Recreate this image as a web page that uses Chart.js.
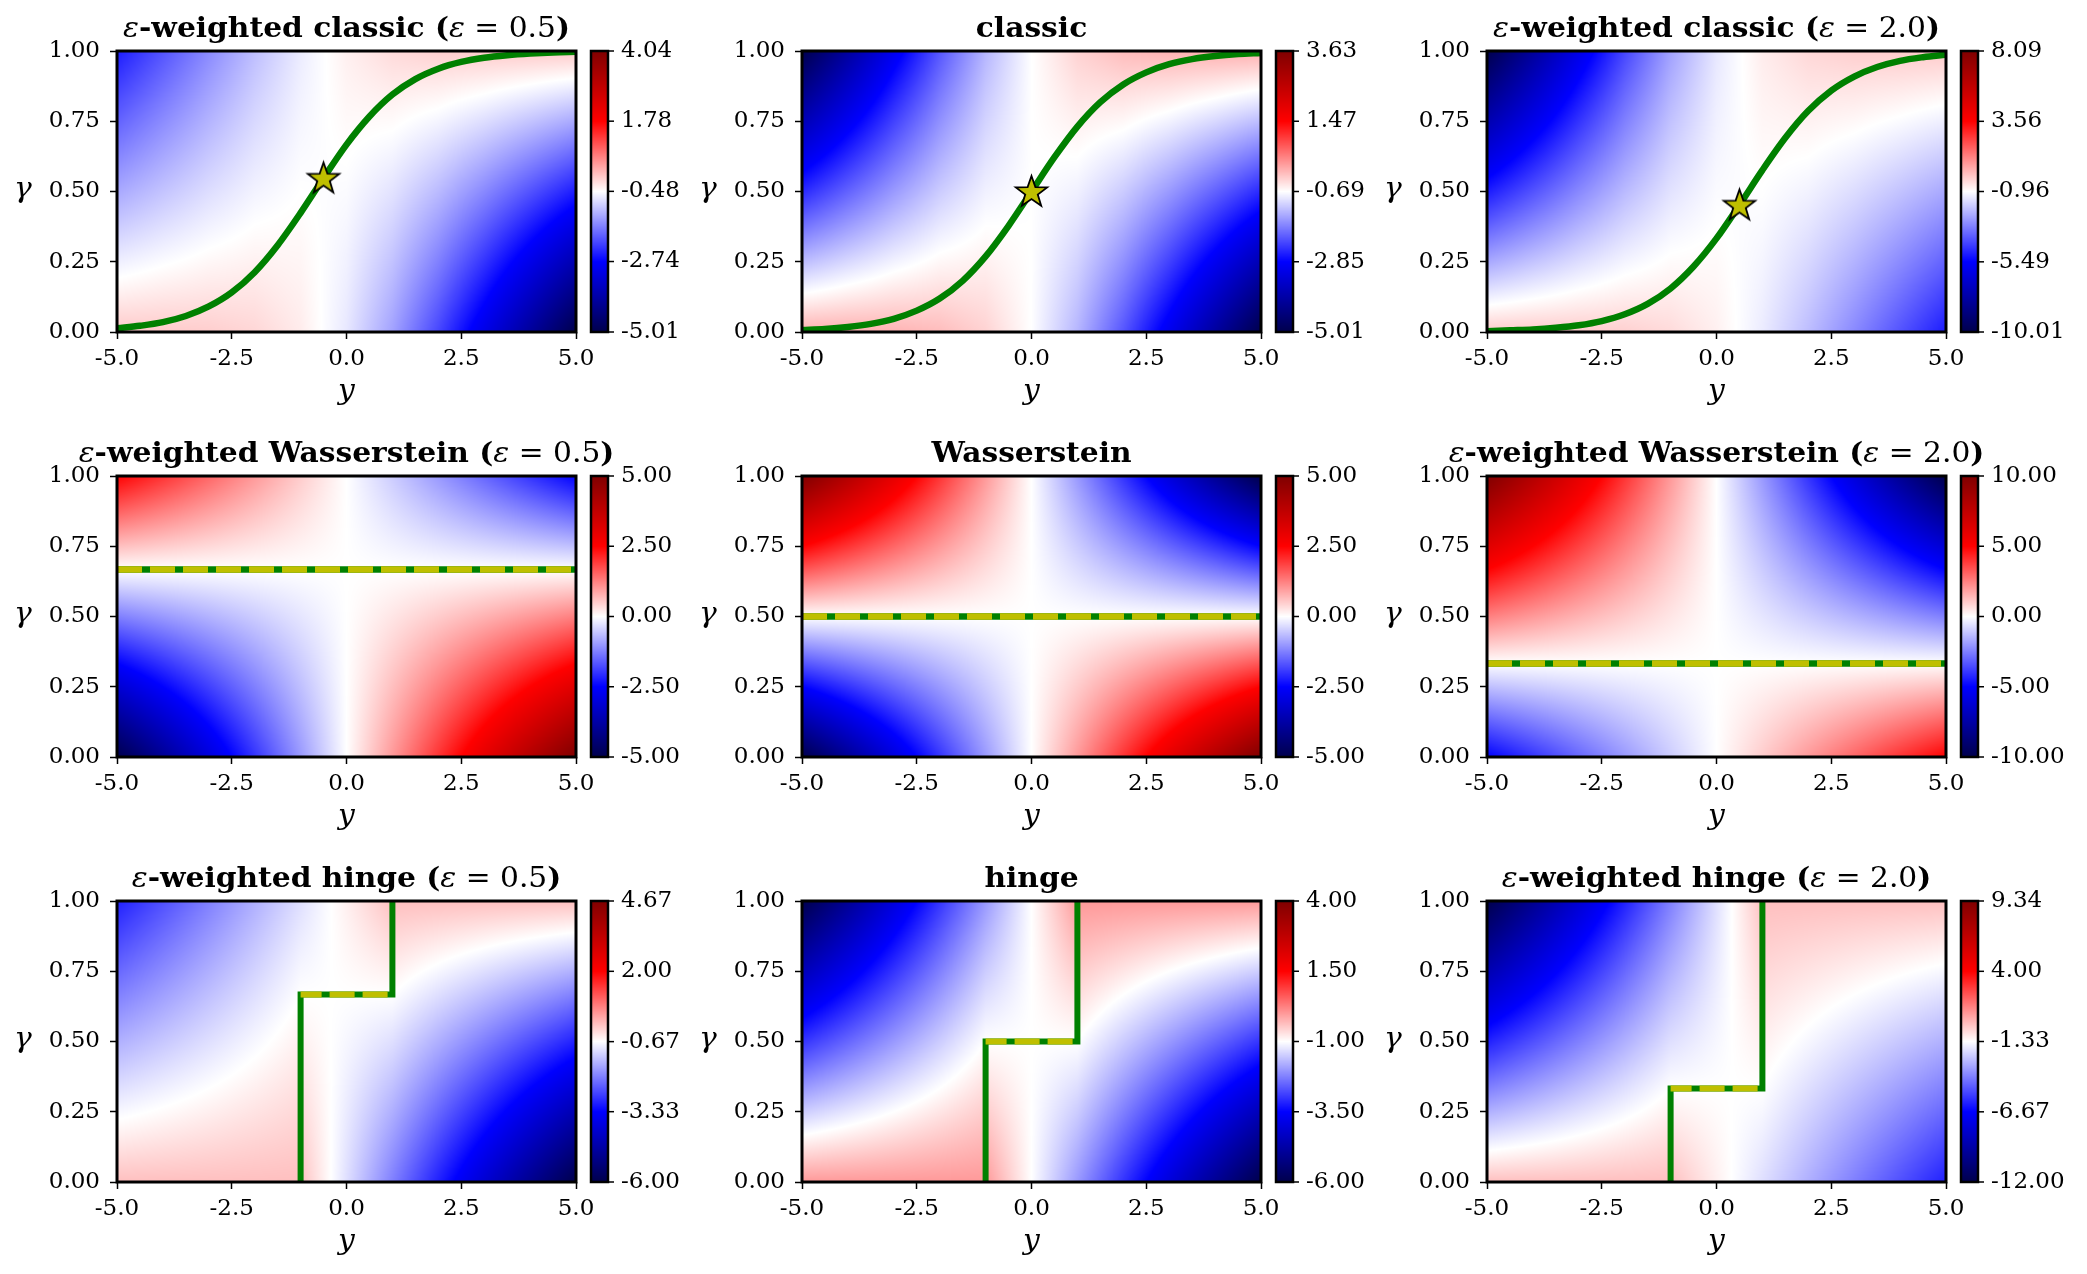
<!DOCTYPE html>
<html>
<head>
<meta charset="utf-8">
<script src="https://cdn.jsdelivr.net/npm/chart.js@4.4.1/dist/chart.umd.min.js"></script>
<style>
  html, body { margin: 0; padding: 0; background: #fff; }
  #page { position: relative; width: 2087px; height: 1274px; overflow: hidden; background: #fff; }
  #page canvas { position: absolute; }
</style>
</head>
<body>
<div id="page"></div>
<script>
// sample grid of the heat maps (columns = y, rows = gamma)
const xGrid = [-5, -4, -3, -2, -1, 0, 1, 2, 3, 4, 5];
const gammaGrid = [0, 0.5, 1];

// heat map values, one row per gamma in gammaGrid
const fieldClassicHalf = [
  [-0.007, -0.018, -0.049, -0.127, -0.313, -0.693, -1.313, -2.127, -3.049, -4.018, -5.007],
  [-1.255, -1.014, -0.786, -0.595, -0.485, -0.520, -0.735, -1.095, -1.536, -2.014, -2.505],
  [-2.503, -2.009, -1.524, -1.063, -0.657, -0.347, -0.157, -0.063, -0.024, -0.009, -0.003]
];
const fieldClassic = [
  [-0.007, -0.018, -0.049, -0.127, -0.313, -0.693, -1.313, -2.127, -3.049, -4.018, -5.007],
  [-2.507, -2.018, -1.549, -1.127, -0.813, -0.693, -0.813, -1.127, -1.549, -2.018, -2.507],
  [-5.007, -4.018, -3.049, -2.127, -1.313, -0.693, -0.313, -0.127, -0.049, -0.018, -0.007]
];
const fieldClassicTwo = [
  [-0.007, -0.018, -0.049, -0.127, -0.313, -0.693, -1.313, -2.127, -3.049, -4.018, -5.007],
  [-5.010, -4.027, -3.073, -2.190, -1.470, -1.040, -0.970, -1.190, -1.573, -2.027, -2.510],
  [-10.013, -8.036, -6.097, -4.254, -2.627, -1.386, -0.627, -0.254, -0.097, -0.036, -0.013]
];
const fieldWassHalf = [
  [-5, -4, -3, -2, -1, 0, 1, 2, 3, 4, 5],
  [-1.25, -1, -0.75, -0.5, -0.25, 0, 0.25, 0.5, 0.75, 1, 1.25],
  [2.5, 2, 1.5, 1, 0.5, 0, -0.5, -1, -1.5, -2, -2.5]
];
const fieldWass = [
  [-5, -4, -3, -2, -1, 0, 1, 2, 3, 4, 5],
  [0, 0, 0, 0, 0, 0, 0, 0, 0, 0, 0],
  [5, 4, 3, 2, 1, 0, -1, -2, -3, -4, -5]
];
const fieldWassTwo = [
  [-5, -4, -3, -2, -1, 0, 1, 2, 3, 4, 5],
  [2.5, 2, 1.5, 1, 0.5, 0, -0.5, -1, -1.5, -2, -2.5],
  [10, 8, 6, 4, 2, 0, -2, -4, -6, -8, -10]
];
const fieldHingeHalf = [
  [0, 0, 0, 0, 0, -1, -2, -3, -4, -5, -6],
  [-1.5, -1.25, -1, -0.75, -0.5, -0.75, -1, -1.5, -2, -2.5, -3],
  [-3, -2.5, -2, -1.5, -1, -0.5, 0, 0, 0, 0, 0]
];
const fieldHinge = [
  [0, 0, 0, 0, 0, -1, -2, -3, -4, -5, -6],
  [-3, -2.5, -2, -1.5, -1, -1, -1, -1.5, -2, -2.5, -3],
  [-6, -5, -4, -3, -2, -1, 0, 0, 0, 0, 0]
];
const fieldHingeTwo = [
  [0, 0, 0, 0, 0, -1, -2, -3, -4, -5, -6],
  [-6, -5, -4, -3, -2, -1.5, -1, -1.5, -2, -2.5, -3],
  [-12, -10, -8, -6, -4, -2, 0, 0, 0, 0, 0]
];

// colorbar tick labels (first = vmin, last = vmax)
const cbClassicHalf = [-5.01, -2.74, -0.48, 1.78, 4.04];
const cbClassic = [-5.01, -2.85, -0.69, 1.47, 3.63];
const cbClassicTwo = [-10.01, -5.49, -0.96, 3.56, 8.09];
const cbWassHalf = [-5, -2.5, 0, 2.5, 5];
const cbWass = [-5, -2.5, 0, 2.5, 5];
const cbWassTwo = [-10, -5, 0, 5, 10];
const cbHingeHalf = [-6, -3.33, -0.67, 2, 4.67];
const cbHinge = [-6, -3.5, -1, 1.5, 4];
const cbHingeTwo = [-12, -6.67, -1.33, 4, 9.34];

// axis ticks
const xTicks = [-5, -2.5, 0, 2.5, 5];
const yTicks = [0, 0.25, 0.5, 0.75, 1];

// green optimum curves of the classic panels
const curveX = [-5, -4.5, -4, -3.5, -3, -2.5, -2, -1.5, -1, -0.5, 0, 0.5, 1, 1.5, 2, 2.5, 3, 3.5, 4, 4.5, 5];
const curveHalf = [0.013, 0.022, 0.035, 0.057, 0.091, 0.141, 0.213, 0.309, 0.424, 0.548, 0.667, 0.767, 0.845, 0.900, 0.937, 0.961, 0.976, 0.985, 0.991, 0.995, 0.997];
const curveClassic = [0.007, 0.011, 0.018, 0.029, 0.047, 0.076, 0.119, 0.182, 0.269, 0.378, 0.5, 0.622, 0.731, 0.818, 0.881, 0.924, 0.953, 0.971, 0.982, 0.989, 0.993];
const curveTwo = [0.003, 0.006, 0.009, 0.015, 0.024, 0.039, 0.063, 0.100, 0.155, 0.233, 0.333, 0.452, 0.576, 0.691, 0.787, 0.859, 0.909, 0.943, 0.965, 0.978, 0.987];
const starX = [-0.5, 0, 0.5];
const starGamma = [0.548, 0.5, 0.452];

// optimum levels of the Wasserstein and hinge panels
const optLevel = [0.667, 0.5, 0.333];
const stepX = [-1, -1, 1, 1];

const SERIF = '"DejaVu Serif", serif';
const GREEN = '#008000';
const YELLOW = '#bfbf00';
const STRETCH = 1.1; // the reference text is a little wider than tall

function epsTitle(name, eps) {
  return [['ε', 'italic'], ['-weighted ' + name + ' (', 'bold'], ['ε', 'italic'], [' = ' + eps, 'normal'], [')', 'bold']];
}

const panels = [
  { title: epsTitle('classic', '0.5'), field: fieldClassicHalf, cb: cbClassicHalf, kind: 'curve', curve: curveHalf, k: 0 },
  { title: [['classic', 'bold']], field: fieldClassic, cb: cbClassic, kind: 'curve', curve: curveClassic, k: 1 },
  { title: epsTitle('classic', '2.0'), field: fieldClassicTwo, cb: cbClassicTwo, kind: 'curve', curve: curveTwo, k: 2 },
  { title: epsTitle('Wasserstein', '0.5'), field: fieldWassHalf, cb: cbWassHalf, kind: 'level', k: 0 },
  { title: [['Wasserstein', 'bold']], field: fieldWass, cb: cbWass, kind: 'level', k: 1 },
  { title: epsTitle('Wasserstein', '2.0'), field: fieldWassTwo, cb: cbWassTwo, kind: 'level', k: 2 },
  { title: epsTitle('hinge', '0.5'), field: fieldHingeHalf, cb: cbHingeHalf, kind: 'step', k: 0 },
  { title: [['hinge', 'bold']], field: fieldHinge, cb: cbHinge, kind: 'step', k: 1 },
  { title: epsTitle('hinge', '2.0'), field: fieldHingeTwo, cb: cbHingeTwo, kind: 'step', k: 2 }
];

const colLeft = [117, 802, 1487];
const rowTop = [51, 476, 901];
const PLOT_W = 459, PLOT_H = 281;
const PAD_L = 115, PAD_T = 51, PAD_R = 135, PAD_B = 80;

function seismic(t) {
  t = Math.min(1, Math.max(0, t));
  const r = [0, 0, 1, 1, 0.5], g = [0, 0, 1, 0, 0], b = [0.3, 1, 1, 0, 0];
  const i = Math.min(3, Math.floor(t * 4));
  const f = (t - i * 0.25) / 0.25;
  return [r, g, b].map(c => Math.round((c[i] + (c[i + 1] - c[i]) * f) * 255));
}

function sample(field, x, g) {
  let i = 0;
  while (i < xGrid.length - 2 && x > xGrid[i + 1]) i++;
  let j = 0;
  while (j < gammaGrid.length - 2 && g > gammaGrid[j + 1]) j++;
  const fx = (x - xGrid[i]) / (xGrid[i + 1] - xGrid[i]);
  const fg = (g - gammaGrid[j]) / (gammaGrid[j + 1] - gammaGrid[j]);
  const lo = field[j][i] * (1 - fx) + field[j][i + 1] * fx;
  const hi = field[j + 1][i] * (1 - fx) + field[j + 1][i + 1] * fx;
  return lo * (1 - fg) + hi * fg;
}

function makeStar(r) {
  const c = document.createElement('canvas');
  const s = Math.ceil(r * 2 + 6);
  c.width = c.height = s;
  const x = c.getContext('2d');
  x.beginPath();
  for (let k = 0; k < 10; k++) {
    const rad = k % 2 ? r * 0.4 : r;
    const ang = -Math.PI / 2 + k * Math.PI / 5;
    x.lineTo(s / 2 + rad * Math.cos(ang), s / 2 + 1 + rad * Math.sin(ang));
  }
  x.closePath();
  x.fillStyle = YELLOW;
  x.fill();
  x.lineWidth = 1.8;
  x.strokeStyle = '#000';
  x.stroke();
  return c;
}
const starImg = makeStar(16.5);

// draws text horizontally stretched, anchored by its centre x
function stretchedText(ctx, parts, cx, y) {
  const fontFor = s => (s === 'bold' ? 'bold ' : s === 'italic' ? 'italic ' : '') + '27px ' + SERIF;
  let total = 0;
  parts.forEach(([t, s]) => { ctx.font = fontFor(s); total += ctx.measureText(t).width; });
  ctx.save();
  ctx.translate(cx, y);
  ctx.scale(STRETCH, 1);
  let tx = -total / 2;
  ctx.textAlign = 'left';
  parts.forEach(([t, s]) => {
    ctx.font = fontFor(s);
    ctx.fillText(t, tx, 0);
    tx += ctx.measureText(t).width;
  });
  ctx.restore();
}

function panelPlugin(p) {
  return {
    id: 'panel',
    beforeDatasetsDraw(chart) {
      const { ctx, chartArea: a, scales } = chart;
      const w = Math.round(a.right - a.left), h = Math.round(a.bottom - a.top);
      const off = document.createElement('canvas');
      off.width = w; off.height = h;
      const octx = off.getContext('2d');
      const img = octx.createImageData(w, h);
      const xs = [];
      for (let px = 0; px < w; px++) xs.push(scales.x.getValueForPixel(a.left + px + 0.5));
      const cb = scales.cb;
      for (let py = 0; py < h; py++) {
        const g = scales.y.getValueForPixel(a.top + py + 0.5);
        for (let px = 0; px < w; px++) {
          const v = sample(p.field, xs[px], g);
          const t = (cb.getPixelForValue(v) - cb.bottom) / (cb.top - cb.bottom);
          const c = seismic(t);
          const o = (py * w + px) * 4;
          img.data[o] = c[0]; img.data[o + 1] = c[1]; img.data[o + 2] = c[2]; img.data[o + 3] = 255;
        }
      }
      octx.putImageData(img, 0, 0);
      ctx.drawImage(off, a.left, a.top);
    },
    afterDatasetsDraw(chart) {
      const { ctx, chartArea: a, scales } = chart;
      ctx.save();
      // axes frame
      ctx.lineWidth = 3;
      ctx.strokeStyle = '#000';
      ctx.strokeRect(a.left, a.top, a.right - a.left, a.bottom - a.top);

      // colorbar
      const cb = scales.cb;
      const bx = a.right + 15, bw = 17;
      for (let py = Math.floor(cb.top); py < cb.bottom; py++) {
        const t = (py + 0.5 - cb.bottom) / (cb.top - cb.bottom);
        const c = seismic(t);
        ctx.fillStyle = 'rgb(' + c.join(',') + ')';
        ctx.fillRect(bx, py, bw, 1);
      }
      ctx.lineWidth = 2.5;
      ctx.strokeRect(bx, cb.top, bw, cb.bottom - cb.top);
      ctx.lineWidth = 1.5;
      p.cb.forEach(v => {
        const y = cb.getPixelForValue(v);
        ctx.beginPath();
        ctx.moveTo(bx + bw, y);
        ctx.lineTo(bx + bw + 6, y);
        ctx.stroke();
      });

      // title with mixed fonts, then axis labels
      ctx.fillStyle = '#000';
      ctx.textBaseline = 'alphabetic';
      stretchedText(ctx, p.title, (a.left + a.right) / 2, a.top - 14);
      stretchedText(ctx, [['y', 'italic']], (a.left + a.right) / 2, a.bottom + 67);
      stretchedText(ctx, [['γ', 'italic']], a.left - 94, (a.top + a.bottom) / 2 + 5);
      ctx.restore();
    }
  };
}

function buildDatasets(p) {
  const L = optLevel[p.k];
  if (p.kind === 'curve') {
    return [
      { data: [{ x: starX[p.k], y: starGamma[p.k] }], showLine: false, pointStyle: starImg, pointRadius: 16, order: 0, clip: false },
      { data: curveX.map((x, i) => ({ x, y: p.curve[i] })), showLine: true, borderColor: GREEN, borderWidth: 6.5,
        cubicInterpolationMode: 'monotone', pointRadius: 0, order: 1 }
    ];
  }
  if (p.kind === 'level') {
    const pts = [{ x: -5, y: L }, { x: 5, y: L }];
    return [
      { data: pts, showLine: true, borderColor: YELLOW, borderWidth: 6.5, borderDash: [25, 8], borderCapStyle: 'butt', pointRadius: 0, order: 0 },
      { data: pts, showLine: true, borderColor: GREEN, borderWidth: 6.5, pointRadius: 0, order: 1 }
    ];
  }
  const stepGamma = [0, L, L, 1];
  return [
    { data: [{ x: -1, y: L }, { x: 1, y: L }], showLine: true, borderColor: YELLOW, borderWidth: 6, borderDash: [25, 8],
      borderDashOffset: 4, borderCapStyle: 'butt', pointRadius: 0, order: 0 },
    { data: stepX.map((x, i) => ({ x, y: stepGamma[i] })), showLine: true, borderColor: GREEN, borderWidth: 6,
      borderJoinStyle: 'miter', pointRadius: 0, order: 1 }
  ];
}

const tickFont = { family: SERIF, size: 23 };

panels.forEach((p, idx) => {
  const r = Math.floor(idx / 3), c = idx % 3;
  const canvas = document.createElement('canvas');
  const W = PAD_L + PLOT_W + PAD_R, H = PAD_T + PLOT_H + PAD_B;
  canvas.width = W; canvas.height = H;
  canvas.style.left = (colLeft[c] - PAD_L) + 'px';
  canvas.style.top = (rowTop[r] - PAD_T) + 'px';
  canvas.style.width = W + 'px'; canvas.style.height = H + 'px';
  document.getElementById('page').appendChild(canvas);

  new Chart(canvas, {
    type: 'scatter',
    data: { datasets: buildDatasets(p) },
    options: {
      responsive: false,
      animation: false,
      devicePixelRatio: 1,
      layout: { padding: { left: 0, top: PAD_T, right: 0, bottom: 0 } },
      plugins: { legend: { display: false }, tooltip: { enabled: false }, title: { display: false } },
      scales: {
        x: {
          type: 'linear', min: -5, max: 5,
          afterBuildTicks: s => { s.ticks = xTicks.map(v => ({ value: v })); },
          afterFit: s => { s.height = PAD_B; },
          grid: { drawOnChartArea: false, tickLength: 7, tickColor: '#000', tickWidth: 1.5 },
          border: { display: false },
          ticks: { font: tickFont, color: '#000', padding: 6, maxRotation: 0, autoSkip: false, callback: v => v.toFixed(1) }
        },
        y: {
          type: 'linear', min: 0, max: 1,
          afterBuildTicks: s => { s.ticks = yTicks.map(v => ({ value: v })); },
          afterFit: s => { s.width = PAD_L; },
          grid: { drawOnChartArea: false, tickLength: 7, tickColor: '#000', tickWidth: 1.5 },
          border: { display: false },
          ticks: { font: tickFont, color: '#000', padding: 10, autoSkip: false, callback: v => v.toFixed(2) }
        },
        cb: {
          axis: 'y', type: 'linear', position: 'right', min: p.cb[0], max: p.cb[p.cb.length - 1],
          afterBuildTicks: s => { s.ticks = p.cb.map(v => ({ value: v })); },
          afterFit: s => { s.width = PAD_R; },
          grid: { drawOnChartArea: false, tickLength: 38, tickColor: 'rgba(0,0,0,0)' },
          border: { display: false },
          ticks: { font: tickFont, color: '#000', padding: 7, autoSkip: false, callback: v => v.toFixed(2) }
        }
      }
    },
    plugins: [panelPlugin(p)]
  });
});
</script>
</body>
</html>
